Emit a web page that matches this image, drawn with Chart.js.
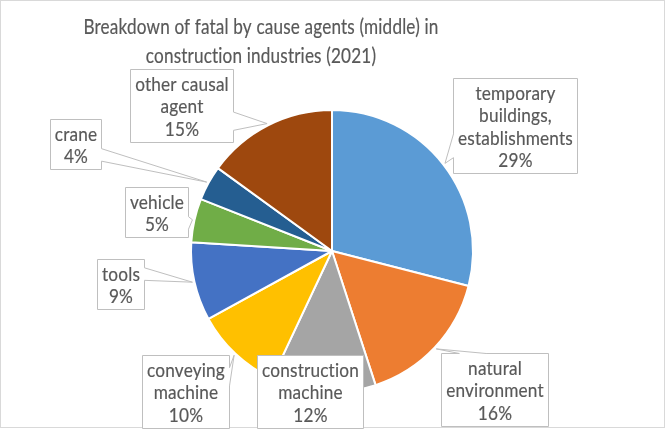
<!DOCTYPE html>
<html>
<head>
<meta charset="utf-8">
<script src="https://cdn.jsdelivr.net/npm/chart.js@4.4.1/dist/chart.umd.min.js"></script>
<style>
  html, body { margin: 0; padding: 0; background: #ffffff; }
  #wrap { width: 666px; height: 429px; position: relative; }
</style>
</head>
<body>
<div id="wrap"><canvas id="c" width="666" height="429"></canvas></div>
<script>
// ---- data ----
const titleLines = ["Breakdown of fatal by cause agents (middle) in", "construction industries (2021)"];
const categories = [
  "temporary buildings, establishments",
  "natural environment",
  "construction machine",
  "conveying machine",
  "tools",
  "vehicle",
  "crane",
  "other causal agent"
];
const labelLines = [
  ["temporary", "buildings,", "establishments"],
  ["natural", "environment"],
  ["construction", "machine"],
  ["conveying", "machine"],
  ["tools"],
  ["vehicle"],
  ["crane"],
  ["other causal", "agent"]
];
const values = [29, 16, 12, 10, 9, 5, 4, 15];

// ---- styles / layout ----
const sliceColors = ["#5B9BD5", "#ED7D31", "#A5A5A5", "#FFC000", "#4472C4", "#70AD47", "#255E91", "#9E480E"];
// label box centres, offset from the pie centre (px)
const labelOffsets = [
  [183, -126], [162, 138], [-22, 140], [-147, 140],
  [-211.5, 33], [-176, -39], [-257, -107], [-150.5, -145.5]
];
const FONT = "Lato, 'Open Sans', sans-serif";
const TEXT_COLOR = "#595959";
const BOX_COLOR = "#BFBFBF";
const TITLE_PX = 21, LABEL_PX = 20;

function setFont(ctx, px) {
  ctx.font = px + "px " + FONT;
  if ("textRendering" in ctx) ctx.textRendering = "optimizeSpeed";
  if ("letterSpacing" in ctx) ctx.letterSpacing = "0.2px";
}
function xScale(ctx, px, text, targetW) {
  setFont(ctx, px);
  return targetW / ctx.measureText(text).width;
}
function drawScaled(ctx, s, x, y, sx) {
  ctx.save();
  ctx.translate(x, y);
  ctx.scale(sx, 1);
  ctx.fillText(s, 0, 0);
  ctx.lineWidth = 0.2;
  ctx.strokeStyle = ctx.fillStyle;
  ctx.strokeText(s, 0, 0);
  ctx.restore();
}

function calloutPath(ctx, l, t, w, h, tx, ty) {
  const r = l + w, b = t + h;
  const cx = l + w / 2, cy = t + h / 2;
  const inside = tx >= l && tx <= r && ty >= t && ty <= b;
  ctx.beginPath();
  if (inside) { ctx.rect(l, t, w, h); return; }
  const dxPos = tx - cx, dyPos = ty - cy;
  const dx = dxPos * h / w;
  let side;
  if (Math.abs(dx) > Math.abs(dyPos)) side = dx > 0 ? "r" : "l";
  else side = dyPos > 0 ? "b" : "t";
  const y1 = t + h * (dyPos > 0 ? 7 : 2) / 12, y2 = t + h * (dyPos > 0 ? 10 : 5) / 12;
  const x1 = l + w * (dxPos > 0 ? 7 : 2) / 12, x2 = l + w * (dxPos > 0 ? 10 : 5) / 12;
  ctx.moveTo(l, t);
  if (side === "t") { ctx.lineTo(x1, t); ctx.lineTo(tx, ty); ctx.lineTo(x2, t); }
  ctx.lineTo(r, t);
  if (side === "r") { ctx.lineTo(r, y1); ctx.lineTo(tx, ty); ctx.lineTo(r, y2); }
  ctx.lineTo(r, b);
  if (side === "b") { ctx.lineTo(x2, b); ctx.lineTo(tx, ty); ctx.lineTo(x1, b); }
  ctx.lineTo(l, b);
  if (side === "l") { ctx.lineTo(l, y2); ctx.lineTo(tx, ty); ctx.lineTo(l, y1); }
  ctx.closePath();
}

const decorPlugin = {
  id: "decor",
  beforeDraw(chart) {
    const ctx = chart.ctx;
    ctx.save();
    ctx.fillStyle = "#ffffff";
    ctx.fillRect(0, 0, chart.width, chart.height);
    ctx.strokeStyle = "#D9D9D9";
    ctx.lineWidth = 1;
    ctx.strokeRect(0.5, 0.5, 664, 427);
    // title
    const sx = xScale(ctx, TITLE_PX, titleLines[0], 355);
    setFont(ctx, TITLE_PX);
    ctx.fillStyle = TEXT_COLOR;
    ctx.textAlign = "center";
    ctx.textBaseline = "alphabetic";
    drawScaled(ctx, titleLines[0], 261, 34, sx);
    drawScaled(ctx, titleLines[1], 261, 63, sx);
    ctx.restore();
  },
  afterDatasetsDraw(chart) {
    const ctx = chart.ctx;
    const meta = chart.getDatasetMeta(0);
    const total = values.reduce((a, b) => a + b, 0);
    const sx = xScale(ctx, LABEL_PX, "establishments", 115);
    const lh = 22.5, padX = 4.5, padY = 2.5;
    ctx.save();
    meta.data.forEach((arc, i) => {
      const mid = (arc.startAngle + arc.endAngle) / 2;
      const tr = arc.outerRadius + 2;
      const tx = arc.x + Math.cos(mid) * tr;
      const ty = arc.y + Math.sin(mid) * tr;
      const pct = Math.round(values[i] / total * 100) + "%";
      const lines = labelLines[i].concat([pct]);
      setFont(ctx, LABEL_PX);
      let mw = 0;
      lines.forEach(s => { mw = Math.max(mw, ctx.measureText(s).width * sx); });
      const w = Math.round(mw + padX * 2);
      const h = Math.round(lines.length * lh + padY * 2);
      const bcx = arc.x + labelOffsets[i][0];
      const bcy = arc.y + labelOffsets[i][1];
      const l = Math.round(bcx - w / 2) + 0.5;
      const t = Math.round(bcy - h / 2) + 0.5;
      calloutPath(ctx, l, t, w, h, tx, ty);
      ctx.fillStyle = "#ffffff";
      ctx.fill();
      ctx.strokeStyle = BOX_COLOR;
      ctx.lineWidth = 1;
      ctx.stroke();
      ctx.fillStyle = TEXT_COLOR;
      ctx.textAlign = "center";
      ctx.textBaseline = "alphabetic";
      lines.forEach((s, k) => {
        drawScaled(ctx, s, l + w / 2, t + padY + (k + 1) * lh - 4, sx);
      });
    });
    ctx.restore();
  }
};

new Chart(document.getElementById("c"), {
  type: "pie",
  data: {
    labels: categories,
    datasets: [{
      data: values,
      backgroundColor: sliceColors,
      borderColor: "#ffffff",
      borderWidth: 2
    }]
  },
  options: {
    responsive: false,
    animation: false,
    layout: { padding: { top: 109, bottom: 36, left: 0, right: 2 } },
    plugins: {
      legend: { display: false },
      title: { display: false },
      tooltip: { enabled: false }
    }
  },
  plugins: [decorPlugin]
});
</script>
</body>
</html>
